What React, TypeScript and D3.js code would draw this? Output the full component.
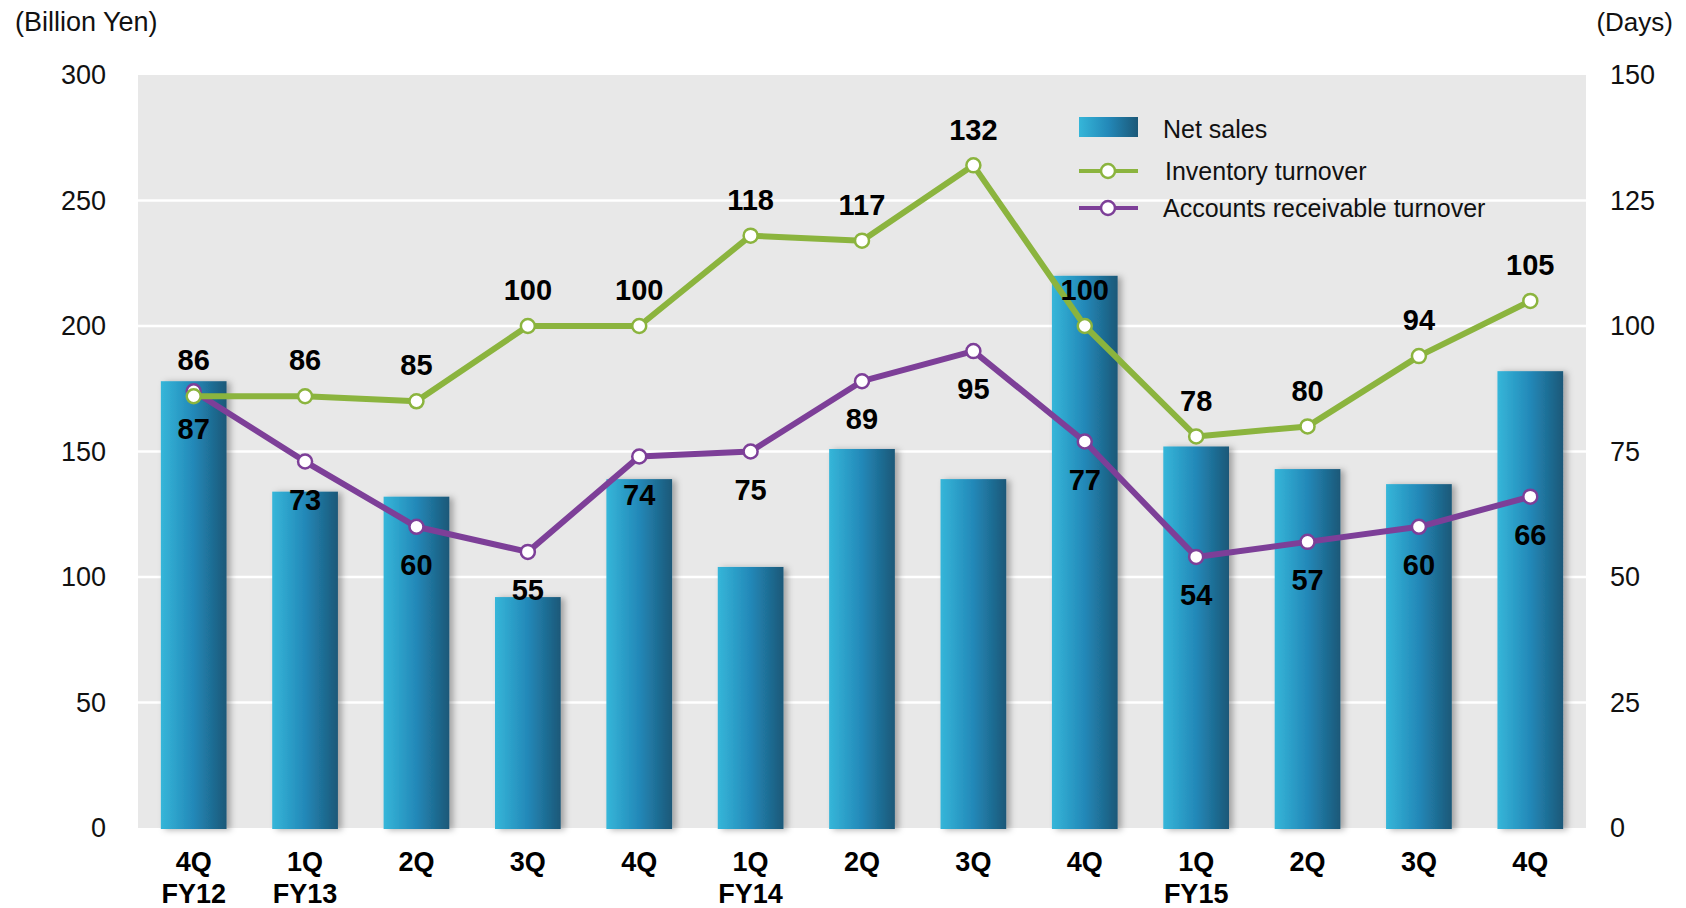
import React from 'react';
import { scaleBand, scaleLinear, line } from 'd3';

// data
const quarters = ['4Q', '1Q', '2Q', '3Q', '4Q', '1Q', '2Q', '3Q', '4Q', '1Q', '2Q', '3Q', '4Q'];
const fiscalYears = ['FY12', 'FY13', '', '', '', 'FY14', '', '', '', 'FY15', '', '', ''];
const netSales = [178, 134, 132, 92, 139, 104, 151, 139, 220, 152, 143, 137, 182];
const inventoryTurnover = [86, 86, 85, 100, 100, 118, 117, 132, 100, 78, 80, 94, 105];
const receivableTurnover = [87, 73, 60, 55, 74, 75, 89, 95, 77, 54, 57, 60, 66];
const leftTicks = [0, 50, 100, 150, 200, 250, 300];
const rightTicks = [0, 25, 50, 75, 100, 125, 150];

const WIDTH = 1686;
const HEIGHT = 908;
const plot = { left: 138, right: 1586, top: 75, bottom: 828 };

const GREEN = '#8bb43e';
const PURPLE = '#7d3f98';
const FONT = '"Liberation Sans", Arial, Helvetica, sans-serif';

const App = () => {
    const idx = quarters.map((_, i) => i);

    const x = scaleBand<number>()
        .domain(idx)
        .range([plot.left, plot.right])
        .paddingInner(0.41)
        .paddingOuter(0.205);

    const yLeft = scaleLinear().domain([0, 300]).range([plot.bottom, plot.top]);
    const yRight = scaleLinear().domain([0, 150]).range([plot.bottom, plot.top]);

    const cx = (i: number) => (x(i) as number) + x.bandwidth() / 2;

    const pathFor = (vals: number[]) =>
        line<number>()
            .x((_, i) => cx(i))
            .y((d) => yRight(d))(vals) as string;

    return (
        <svg
            width={WIDTH}
            height={HEIGHT}
            style={{ position: 'absolute', left: 0, top: 0, background: '#fff' }}
            fontFamily={FONT}
        >
            <defs>
                <linearGradient id="barGrad" x1="0" x2="1" y1="0" y2="0">
                    <stop offset="0%" stopColor="#35b6d9" />
                    <stop offset="50%" stopColor="#2388b8" />
                    <stop offset="100%" stopColor="#1b5878" />
                </linearGradient>
                <filter id="barShadow" x="-20%" y="-5%" width="150%" height="110%">
                    <feDropShadow dx="4" dy="1" stdDeviation="3" floodColor="#000" floodOpacity="0.3" />
                </filter>
            </defs>

            {/* plot background */}
            <rect
                x={plot.left}
                y={plot.top}
                width={plot.right - plot.left}
                height={plot.bottom - plot.top}
                fill="#e8e8e8"
            />

            {/* gridlines */}
            {leftTicks.filter((t) => t > 0 && t < 300).map((t) => (
                <line
                    key={'g' + t}
                    x1={plot.left}
                    x2={plot.right}
                    y1={yLeft(t)}
                    y2={yLeft(t)}
                    stroke="#ffffff"
                    strokeWidth={2.5}
                />
            ))}

            {/* axis labels */}
            <text x={15} y={31} fontSize={27} fill="#111">(Billion Yen)</text>
            <text x={1673} y={31} fontSize={26} fill="#111" textAnchor="end">(Days)</text>

            {leftTicks.map((t) => (
                <text
                    key={'l' + t}
                    x={106}
                    y={yLeft(t)}
                    dy="0.35em"
                    fontSize={27}
                    textAnchor="end"
                    fill="#111"
                >
                    {t}
                </text>
            ))}
            {rightTicks.map((t) => (
                <text
                    key={'r' + t}
                    x={1610}
                    y={yRight(t)}
                    dy="0.35em"
                    fontSize={27}
                    fill="#111"
                >
                    {t}
                </text>
            ))}

            {/* bars */}
            <g filter="url(#barShadow)">
                {netSales.map((v, i) => (
                    <rect
                        key={'b' + i}
                        x={x(i)}
                        y={yLeft(v)}
                        width={x.bandwidth()}
                        height={plot.bottom - yLeft(v) + 1}
                        fill="url(#barGrad)"
                    />
                ))}
            </g>

            {/* category labels */}
            {quarters.map((q, i) => (
                <g key={'c' + i} fontWeight="bold" fontSize={27} textAnchor="middle" fill="#000">
                    <text x={cx(i)} y={862} dy="0.35em">{q}</text>
                    {fiscalYears[i] && <text x={cx(i)} y={894} dy="0.35em">{fiscalYears[i]}</text>}
                </g>
            ))}

            {/* lines */}
            <path d={pathFor(receivableTurnover)} fill="none" stroke={PURPLE} strokeWidth={6} strokeLinejoin="round" />
            {receivableTurnover.map((v, i) => (
                <circle key={'pm' + i} cx={cx(i)} cy={yRight(v)} r={7} fill="#fff" stroke={PURPLE} strokeWidth={2.5} />
            ))}
            <path d={pathFor(inventoryTurnover)} fill="none" stroke={GREEN} strokeWidth={6} strokeLinejoin="round" />
            {inventoryTurnover.map((v, i) => (
                <circle key={'gm' + i} cx={cx(i)} cy={yRight(v)} r={7} fill="#fff" stroke={GREEN} strokeWidth={2.5} />
            ))}

            {/* value labels */}
            {inventoryTurnover.map((v, i) => (
                <text
                    key={'iv' + i}
                    x={cx(i)}
                    y={yRight(v) - 36}
                    dy="0.35em"
                    fontSize={29}
                    fontWeight="bold"
                    textAnchor="middle"
                    fill="#000"
                >
                    {v}
                </text>
            ))}
            {receivableTurnover.map((v, i) => (
                <text
                    key={'rv' + i}
                    x={cx(i)}
                    y={yRight(v) + 38}
                    dy="0.35em"
                    fontSize={29}
                    fontWeight="bold"
                    textAnchor="middle"
                    fill="#000"
                >
                    {v}
                </text>
            ))}

            {/* legend */}
            <g fontSize={25} fill="#111">
                <rect x={1079} y={117} width={59} height={20} fill="url(#barGrad)" />
                <text x={1163} y={129} dy="0.35em">Net sales</text>

                <line x1={1079} x2={1138} y1={171} y2={171} stroke={GREEN} strokeWidth={4} />
                <circle cx={1108} cy={171} r={7} fill="#fff" stroke={GREEN} strokeWidth={2.5} />
                <text x={1165} y={171} dy="0.35em">Inventory turnover</text>

                <line x1={1079} x2={1138} y1={208} y2={208} stroke={PURPLE} strokeWidth={4} />
                <circle cx={1108} cy={208} r={7} fill="#fff" stroke={PURPLE} strokeWidth={2.5} />
                <text x={1163} y={208} dy="0.35em">Accounts receivable turnover</text>
            </g>
        </svg>
    );
};

export default App;
